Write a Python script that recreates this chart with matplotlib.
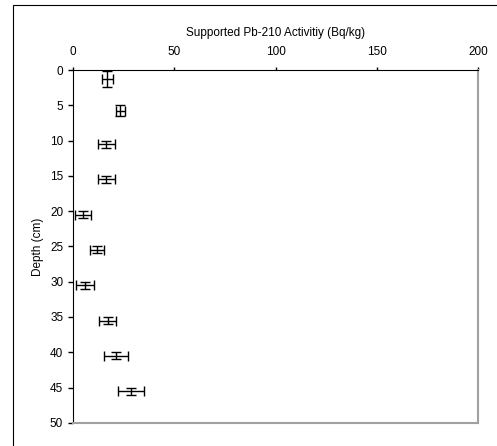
import matplotlib
matplotlib.use('Agg')
import matplotlib.pyplot as plt
from matplotlib.patches import Rectangle

plt.rcParams['font.family'] = ['Liberation Sans', 'DejaVu Sans']

# data
depth = [1.3, 5.75, 10.5, 15.5, 20.5, 25.5, 30.5, 35.5, 40.5, 45.5]
activity = [17.0, 23.4, 16.5, 16.5, 4.9, 11.7, 5.8, 17.1, 21.2, 28.6]
activity_err = [2.9, 2.4, 4.1, 4.1, 3.8, 3.5, 4.3, 4.1, 5.7, 6.3]
depth_err = [1.15, 0.75, 0.5, 0.5, 0.5, 0.5, 0.5, 0.5, 0.5, 0.5]

fig = plt.figure(figsize=(4.97, 4.46), dpi=100)
ax = fig.add_axes([0.147, 0.052, 0.815, 0.791])

ax.errorbar(activity, depth, xerr=activity_err, yerr=depth_err, fmt='none',
            ecolor='black', elinewidth=1, capsize=3.4, capthick=1)

ax.set_xlim(0, 200)
ax.set_ylim(50, 0)
ax.set_xticks([0, 50, 100, 150, 200])
ax.set_yticks(range(0, 51, 5))

ax.xaxis.tick_top()
ax.xaxis.set_label_position('top')
ax.set_xlabel('Supported Pb-210 Activitiy (Bq/kg)', fontsize=8.5, labelpad=7.5)
ax.set_ylabel('Depth (cm)', fontsize=8.5, labelpad=4)
ax.tick_params(axis='x', direction='out', length=2.5, width=1, pad=6, labelsize=8.5)
ax.tick_params(axis='y', direction='out', length=3.6, width=1, pad=3.5, labelsize=8.5)

ax.spines['left'].set_color('black')
ax.spines['top'].set_color('black')
ax.spines['right'].set_color('#a0a0a0')
ax.spines['bottom'].set_color('#a0a0a0')
ax.spines['right'].set_linewidth(1.5)
ax.spines['bottom'].set_linewidth(1.5)

# outer chart-area border (only left and top edges fall inside the image)
fig.add_artist(Rectangle((13 / 497, -0.1), 1.2, 1.1 - 5 / 446,
                         transform=fig.transFigure, fill=False,
                         edgecolor='black', linewidth=0.8))

fig.savefig('out.png', dpi=100)
